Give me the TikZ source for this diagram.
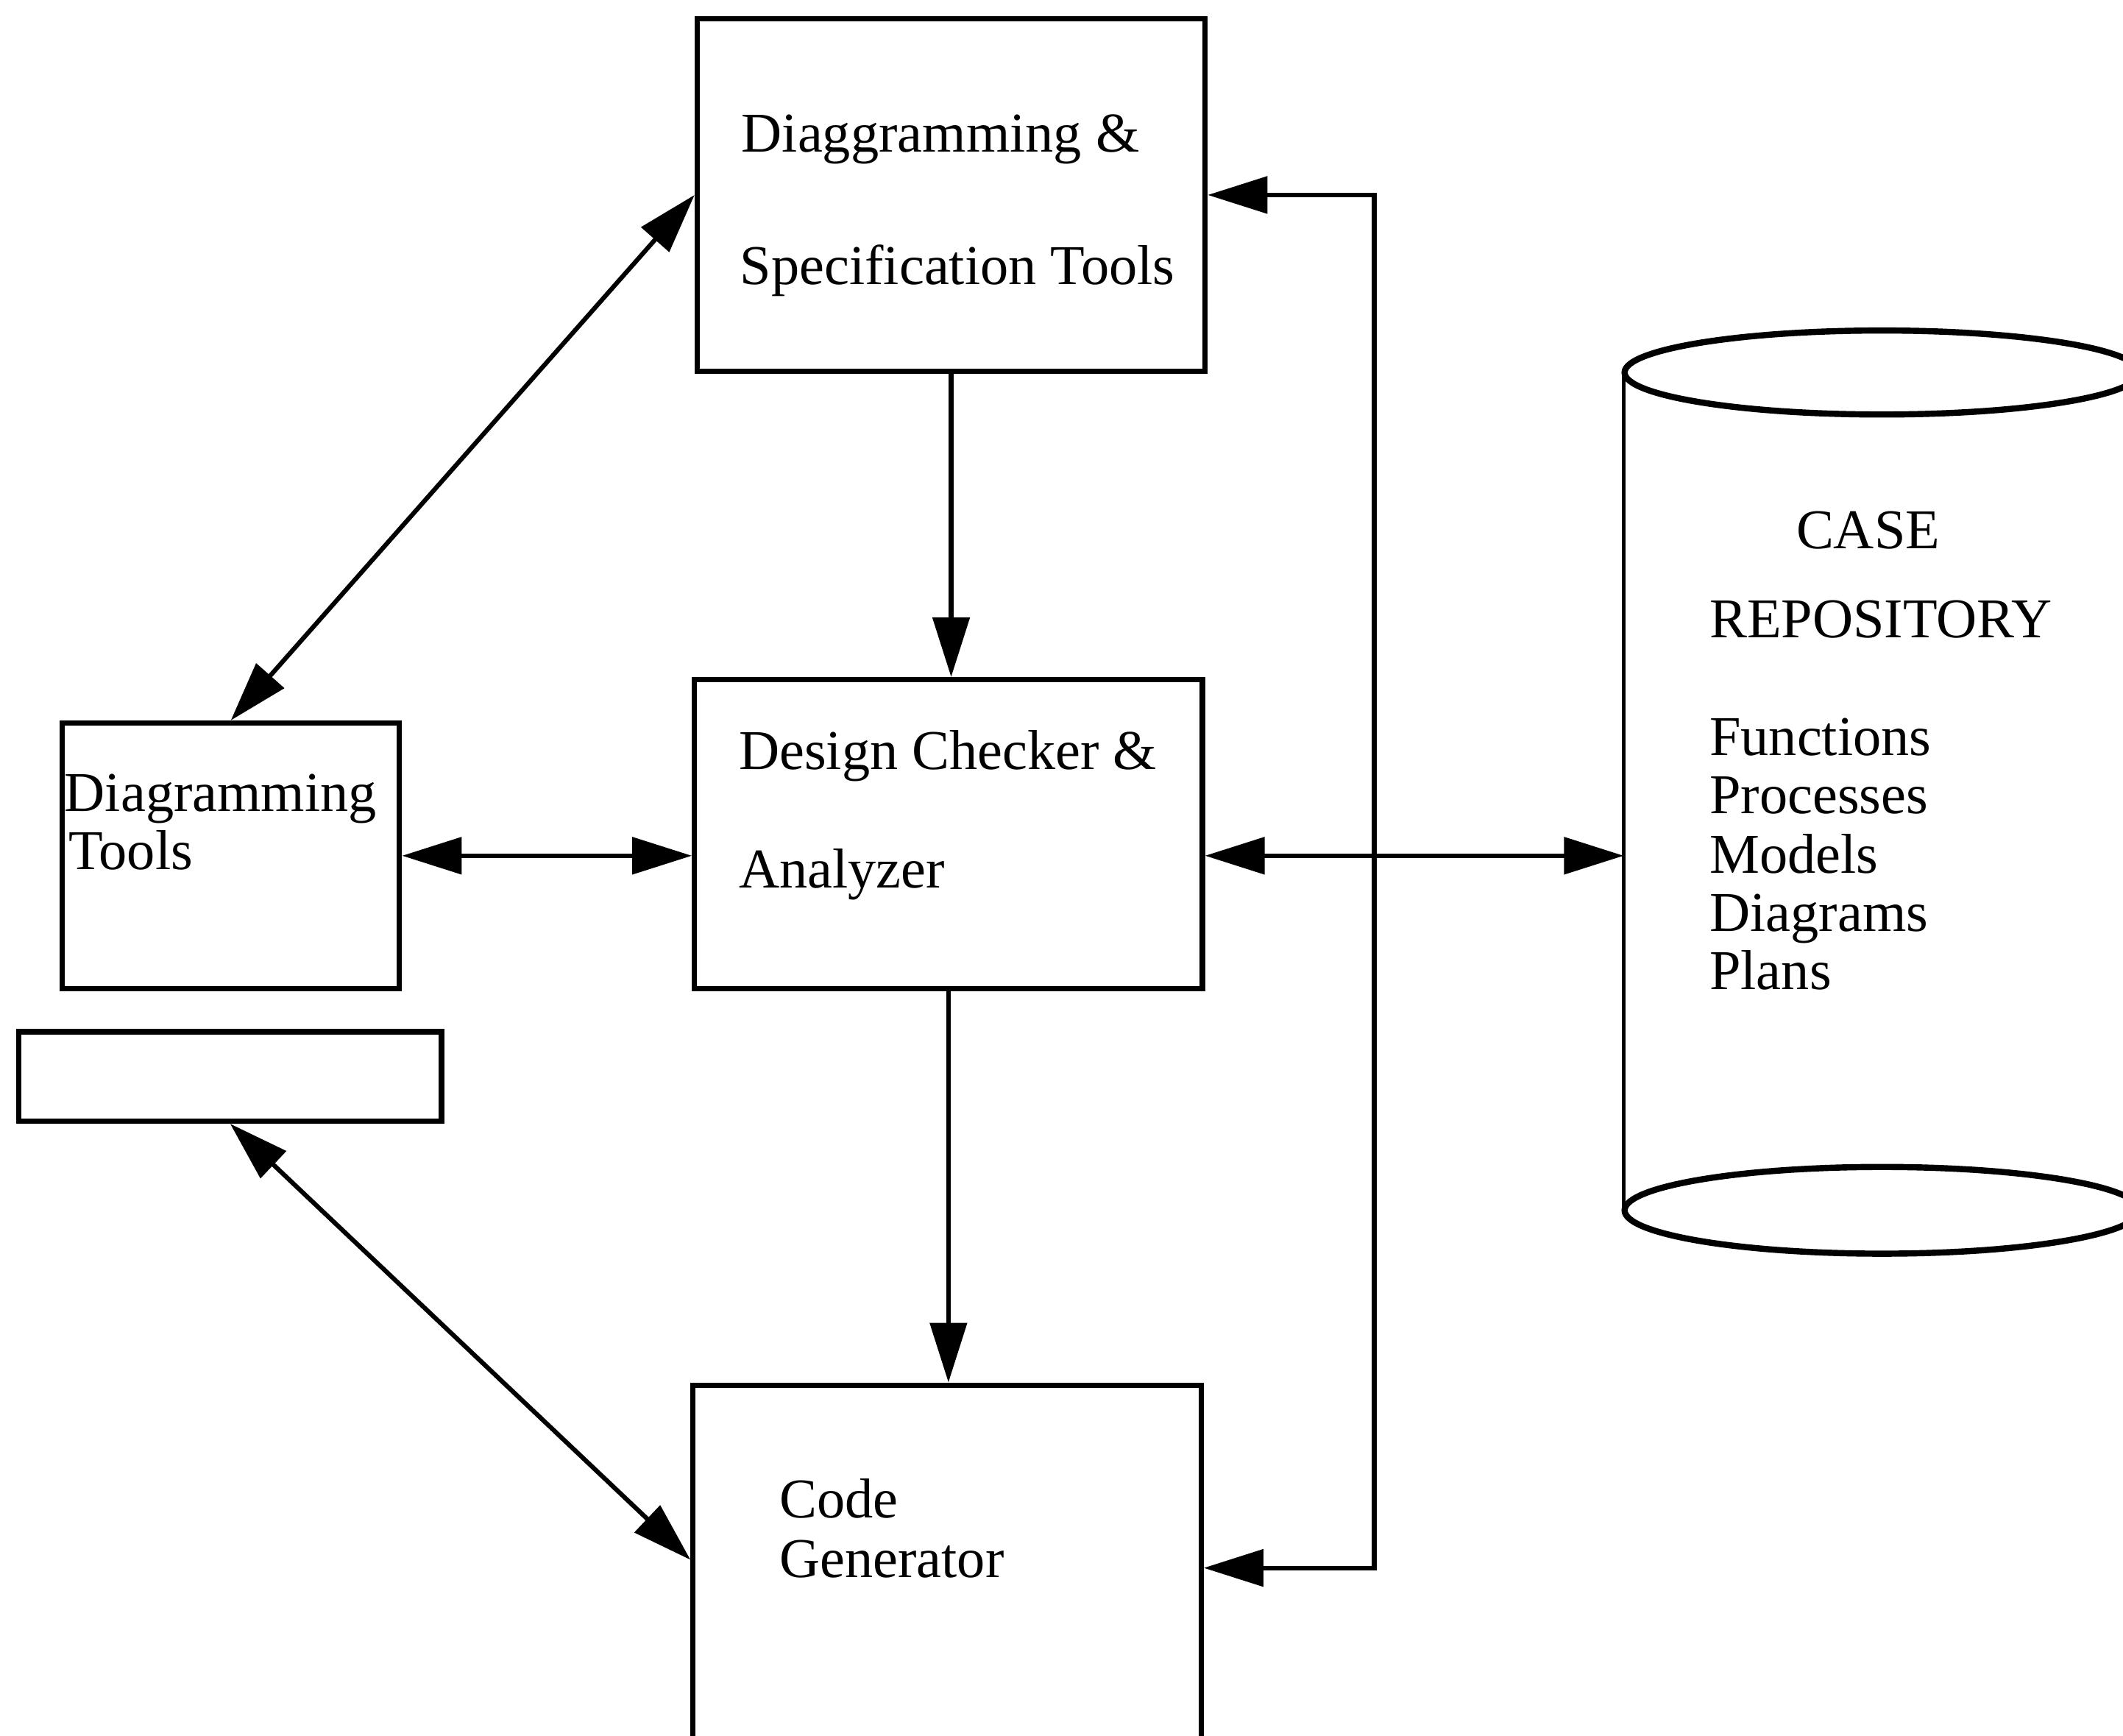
\documentclass[tikz,border=0pt]{standalone}
\usepackage{fontspec}
\setmainfont{Liberation Serif}
\usetikzlibrary{arrows.meta,calc}
\begin{document}
\begin{tikzpicture}[x=0.01cm,y=-0.01cm,
  box/.style={draw, line width=1.1pt, inner sep=0pt},
  lbl/.style={anchor=base west, inner sep=0pt, font=\fontsize{11.8pt}{13pt}\selectfont},
  conn/.style={line width=0.95pt},
  >={Triangle[length=0.44cm,width=0.27cm]}]
\clip (0,0) rectangle (1568,1282);
\fill[white] (0,0) rectangle (1568,1282);
% boxes
\node[box, minimum width=3.75cm, minimum height=2.60cm] (spec) at (702.5,144) {};
\node[box, minimum width=3.75cm, minimum height=2.28cm] (check) at (700.5,616) {};
\node[box, minimum width=3.75cm, minimum height=2.90cm] (code) at (699.5,1168) {};
\node[box, minimum width=2.49cm, minimum height=1.96cm] (diag) at (170.5,632) {};
\node[box, minimum width=3.12cm, minimum height=0.66cm] (blank) at (170,795) {};
% repository cylinder
\node[inner sep=0pt, minimum width=3.8cm, minimum height=6.17cm] (repo) at (1390,584.5) {};
\draw[line width=0.8pt] (repo.north west) -- (repo.south west);
\draw[line width=0.8pt] (repo.north east) -- (repo.south east);
\draw[line width=1.3pt, fill=white] (repo.north) ellipse [x radius=1.9cm, y radius=0.31cm];
\draw[line width=1.3pt] (repo.south) ellipse [x radius=1.9cm, y radius=0.32cm];
% texts
\node[lbl] (t1a) at (547,112) {Diaggramming \&};
\node[lbl] (t1b) at (546,210) {Specification Tools};
\node[lbl] (t2a) at (545,568) {Design Checker \&};
\node[lbl] (t2b) at (545,656) {Analyzer};
\node[lbl] (t3a) at (575,1121) {Code};
\node[lbl] (t3b) at (575,1165) {Generator};
\node[lbl] (t4a) at (47,599) {Diagramming};
\node[lbl] (t4b) at (50,642) {Tools};
\node[lbl] (r1) at (1326,405) {CASE};
\node[lbl] (r2) at (1262,471) {REPOSITORY};
\node[lbl] (r3) at (1262,558) {Functions};
\node[lbl] (r4) at (1262,601) {Processes};
\node[lbl] (r5) at (1262,645) {Models};
\node[lbl] (r6) at (1262,688) {Diagrams};
\node[lbl] (r7) at (1262,731) {Plans};
% connectors
\coordinate (lx) at (1015,0);
\draw[conn,->] (spec.south) -- (spec.south |- check.north);
\draw[conn,->] (check.south) -- (check.south |- code.north);
\draw[conn,<->] (diag.east) -- (diag.east -| check.west);
\draw[conn,<->] (check.east |- diag.east) -- (repo.west |- diag.east);
\draw[conn,<->] (diag.north) -- (spec.west);
\draw[conn,<->] (blank.south) -- ([yshift=0.16cm]code.west);
\draw[conn,<->] (spec.east) -| ([yshift=0.10cm]code.east -| lx) -- ([yshift=0.10cm]code.east);
\end{tikzpicture}
\end{document}
